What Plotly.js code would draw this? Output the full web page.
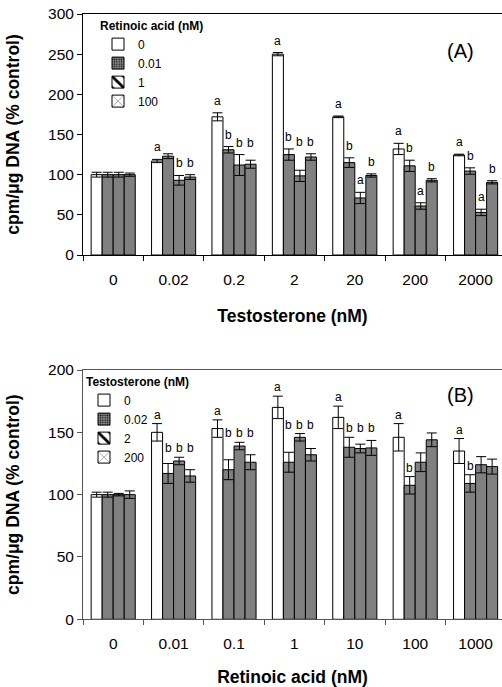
<!DOCTYPE html>
<html><head><meta charset="utf-8">
<script src="https://cdn.plot.ly/plotly-3.0.1.min.js"></script>
<style>
html,body{margin:0;padding:0;overflow:hidden;background:#fff}
#chart{width:502px;height:687px}
g.legend .traces, g.legend2 .traces{opacity:1 !important}
g.g-ytitle, g.g-y2title{transform:translateX(-19px)}
g.g-xtitle{transform:translateY(4px)}
g.g-x2title{transform:translateY(1px)}
</style></head><body><div id="chart"></div>
<script>
// ---- Panel A: Testosterone (nM) x Retinoic acid (nM) ----
const testoCats = ['0','0.02','0.2','2','20','200','2000'];
const raNames = ['0','0.01','1','100'];
const A_ra0    = [100,117,172,250,172,132,124.5];
const A_ra0Err = [3,2,5,2,1,7,1];
const A_ra001    = [100,123,131,125,115,111,104.5];
const A_ra001Err = [3,3,4,7,6,7,4];
const A_ra1    = [100,93,112,98.5,71,61,53];
const A_ra1Err = [3,6,13,7,7,4,4];
const A_ra100    = [100,97,113,122,99,93,90.5];
const A_ra100Err = [2,3,5,4,2,2,2];
const A_let0   = ['','a','a','a','a','a','a'];
const A_let001 = ['','','b','b','b','b','b'];
const A_let1   = ['','b','b','b','a','a','a'];
const A_let100 = ['','b','b','b','b','b','b'];

// ---- Panel B: Retinoic acid (nM) x Testosterone (nM) ----
const raCats = ['0','0.01','0.1','1','10','100','1000'];
const tNames = ['0','0.02','2','200'];
const B_t0    = [100,150,153,170,162,146,135];
const B_t0Err = [2,7,7,9,9,11,10];
const B_t002    = [100,117,120,126,138,107.5,109];
const B_t002Err = [2,8,8,8,8,7,7];
const B_t2    = [100,127,139,146,137,126,124];
const B_t2Err = [1,3,3,3,3.5,7.5,6.5];
const B_t200    = [100,115,126,132,137.5,144,122.5];
const B_t200Err = [3,5,6,5,6,5.5,6];
const B_let0   = ['','a','a','a','a','a','a'];
const B_let002 = ['','b','b','b','b','b','b'];
const B_let2   = ['','b','b','b','b','',''];
const B_let200 = ['','b','b','b','b','',''];

const FONT = 'Liberation Sans, Arial, sans-serif';
const GRAY = '#808080';
const BARGAP = 0.27;
const fills = ['#ffffff', GRAY, GRAY, GRAY];
const legendPatterns = [
  {shape:''},
  {shape:'.', fgcolor:'#222', bgcolor:'#999', size:3, solidity:0.45},
  {shape:'\\', fgcolor:'#000', bgcolor:'#fff', size:16, solidity:0.35},
  {shape:'x', fgcolor:'#000', bgcolor:'#fff', size:16, solidity:0.08}
];

function barTraces(cats, vals, errs, xa, ya) {
  return vals.map((v, j) => ({
    type:'bar', x:cats, y:v, xaxis:xa, yaxis:ya, showlegend:false,
    marker:{color:fills[j], line:{color:'#000', width:1}},
    error_y:{type:'data', array:errs[j], visible:true, color:'#000', thickness:1, width:5},
    hoverinfo:'skip'
  }));
}
function legendTraces(names, xa, ya, leg) {
  return names.map((n, j) => ({
    type:'bar', x:[null], y:[null], xaxis:xa, yaxis:ya, name:n, legend:leg,
    visible:'legendonly', showlegend:true,
    marker:{color:fills[j] === GRAY ? '#fff' : fills[j], line:{color:'#000', width:1}, pattern:legendPatterns[j]}
  }));
}
function letterAnns(vals, errs, lets, xa, ya, mode, yshift) {
  const anns = [];
  const bw = (1 - BARGAP) / vals.length;
  for (let i = 0; i < vals[0].length; i++) {
    const caps = vals.map((v, j) => v[i] + errs[j][i]);
    for (let j = 0; j < vals.length; j++) {
      const L = lets[j][i];
      if (!L) continue;
      let y = caps[j];
      if (mode === 'A' && j >= 2 && lets[2][i] && lets[2][i] === lets[3][i]) {
        y = Math.max(caps[2], caps[3]);
      }
      if (mode === 'B' && L === 'b') {
        y = Math.max(...caps.filter((c, k) => lets[k][i] === 'b'));
      }
      anns.push({xref:xa, yref:ya, x:i + (j - 1.5) * bw, y:y, text:L, showarrow:false,
        yanchor:'bottom', yshift:yshift, font:{family:FONT, size:12, color:'#000'}});
    }
  }
  return anns;
}

const Avals = [A_ra0, A_ra001, A_ra1, A_ra100];
const Aerrs = [A_ra0Err, A_ra001Err, A_ra1Err, A_ra100Err];
const Alets = [A_let0, A_let001, A_let1, A_let100];
const Bvals = [B_t0, B_t002, B_t2, B_t200];
const Berrs = [B_t0Err, B_t002Err, B_t2Err, B_t200Err];
const Blets = [B_let0, B_let002, B_let2, B_let200];

const data = [
  ...barTraces(testoCats, Avals, Aerrs, 'x', 'y'),
  ...barTraces(raCats, Bvals, Berrs, 'x2', 'y2'),
  ...legendTraces(raNames, 'x', 'y', 'legend'),
  ...legendTraces(tNames, 'x2', 'y2', 'legend2')
];

const W = 502, H = 687;
const xDom = [83 / W, 1];
const tickF = {family:FONT, size:15.5, color:'#000'};
const titleF = {family:FONT, size:17.5, color:'#000', weight:'bold'};
function xAxis(title, anchor, lc) {
  return {type:'category', domain:xDom, anchor:anchor, range:[-0.5, 6.437],
    tickson:'boundaries', ticks:'outside', ticklen:5, tickcolor:lc, showline:true, linecolor:lc, linewidth:1,
    mirror:true, showgrid:false, zeroline:false, tickfont:tickF, ticklabelstandoff:10,
    automargin:false, fixedrange:true,
    title:{text:title, font:titleF}};
}
function yAxis(dom, rng, anchor, lc) {
  return {domain:dom, anchor:anchor, range:rng, dtick:50, ticks:'outside', ticklen:5, tickcolor:lc,
    showline:true, linecolor:lc, linewidth:1, showgrid:false, zeroline:false, tickfont:tickF,
    automargin:false, fixedrange:true,
    title:{text:'cpm/μg DNA (% control)', font:titleF}};
}

const layout = {
  width:W, height:H, margin:{l:0, r:0, t:0, b:0}, paper_bgcolor:'#fff', plot_bgcolor:'#fff',
  barmode:'group', bargap:BARGAP, bargroupgap:0, font:{family:FONT, color:'#000'},
  xaxis: xAxis('Testosterone (nM)', 'y', '#000'),
  yaxis: yAxis([1 - 255 / H, 1 - 14 / H], [0, 300], 'x', '#000'),
  xaxis2: xAxis('Retinoic acid (nM)', 'y2', '#555'),
  yaxis2: yAxis([1 - 619.3 / H, 1 - 370 / H], [0, 200], 'x2', '#555'),
  legend:{x:98 / W, y:1 - 14 / H, xanchor:'left', yanchor:'top', bgcolor:'rgba(0,0,0,0)',
    font:{family:FONT, size:12, color:'#000'},
    title:{text:'Retinoic acid (nM)', side:'top', font:{family:FONT, size:12, color:'#000', weight:'bold'}}},
  legend2:{x:84 / W, y:1 - 370 / H, xanchor:'left', yanchor:'top', bgcolor:'rgba(0,0,0,0)',
    font:{family:FONT, size:12, color:'#000'},
    title:{text:'Testosterone (nM)', side:'top', font:{family:FONT, size:12, color:'#000', weight:'bold'}}},
  annotations:[
    ...letterAnns(Avals, Aerrs, Alets, 'x', 'y', 'A', 3),
    ...letterAnns(Bvals, Berrs, Blets, 'x2', 'y2', 'B', 0),
    {xref:'paper', yref:'paper', x:475.7 / W, y:1 - 38.3 / H, text:'(A)', showarrow:false,
      font:{family:FONT, size:20, color:'#000'}},
    {xref:'paper', yref:'paper', x:475.7 / W, y:1 - 395 / H, text:'(B)', showarrow:false,
      font:{family:FONT, size:20, color:'#000'}}
  ]
};

Plotly.newPlot('chart', data, layout, {displayModeBar:false, staticPlot:true});
</script></body></html>
